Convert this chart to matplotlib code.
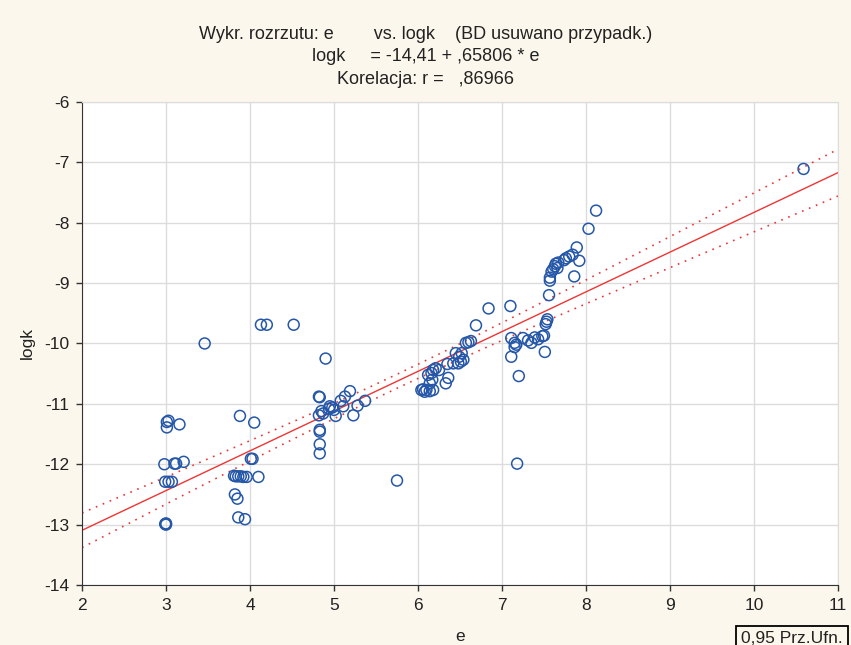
import numpy as np
import matplotlib.pyplot as plt

plt.rcParams['font.family'] = ['Liberation Sans', 'DejaVu Sans']
plt.rcParams['axes.unicode_minus'] = False

# punkty
e_vals = [3.0, 2.99, 3.0, 2.99, 3.03, 3.07, 2.98, 3.10, 3.12, 3.21, 3.01, 3.03, 3.01, 3.16, 3.46,
          3.88, 4.05, 4.01, 4.03, 3.81, 3.83, 3.86, 3.89, 3.92, 3.96, 4.10, 3.82, 3.85, 3.86, 3.94,
          4.13, 4.20, 4.52,
          4.90, 4.82, 4.83, 5.19, 5.13, 5.08, 5.37, 5.28, 4.95, 4.98, 4.94, 5.00, 5.11,
          4.85, 4.87, 4.82, 5.02, 5.23, 4.83, 4.83, 4.83, 4.83, 5.75,
          6.69, 6.84, 6.57, 6.63, 6.60, 6.45, 6.52, 6.49, 6.54, 6.42, 6.48, 6.51, 6.35,
          6.21, 6.25, 6.18, 6.12, 6.16, 6.36, 6.33, 6.17, 6.14, 6.06, 6.10, 6.14, 6.08, 6.04, 6.18,
          7.10, 7.54, 7.53, 7.52, 7.11, 7.15, 7.17, 7.15, 7.25, 7.31, 7.35,
          7.39, 7.43, 7.48, 7.50, 7.51, 7.11, 7.20, 7.18,
          8.12, 8.03, 7.89, 7.92, 7.84, 7.80, 7.76, 7.74, 7.67, 7.64, 7.63, 7.66, 7.61, 7.59,
          7.86, 7.57, 7.57, 7.56, 10.59]
logk_vals = [-12.98, -12.99, -13.0, -12.29, -12.29, -12.29, -12.0, -11.99, -11.99, -11.96, -11.30, -11.28, -11.39, -11.34, -10.0,
             -11.2, -11.31, -11.91, -11.91, -12.19, -12.2, -12.2, -12.2, -12.21, -12.21, -12.21, -12.5, -12.57, -12.88, -12.91,
             -9.69, -9.69, -9.69,
             -10.25, -10.88, -10.89, -10.79, -10.88, -10.95, -10.95, -11.03, -11.04, -11.06, -11.08, -11.1, -11.04,
             -11.12, -11.16, -11.19, -11.2, -11.19, -11.43, -11.46, -11.67, -11.82, -12.27,
             -9.7, -9.42, -9.99, -9.96, -9.98, -10.16, -10.16, -10.22, -10.27, -10.33, -10.33, -10.3, -10.34,
             -10.41, -10.44, -10.44, -10.52, -10.49, -10.57, -10.66, -10.6, -10.66, -10.76, -10.77, -10.79, -10.8, -10.77, -10.77,
             -9.38, -9.6, -9.64, -9.68, -9.91, -9.99, -10.02, -10.06, -9.91, -9.95, -9.99,
             -9.9, -9.93, -9.88, -9.87, -10.14, -10.22, -10.54, -11.99,
             -7.8, -8.1, -8.41, -8.63, -8.53, -8.56, -8.59, -8.62, -8.66, -8.68, -8.72, -8.75, -8.77, -8.81,
             -8.89, -8.91, -8.96, -9.2, -7.11]

intercept = -14.41
slope = 0.65806
x_ticks = [2, 3, 4, 5, 6, 7, 8, 9, 10, 11]
y_ticks = [-14, -13, -12, -11, -10, -9, -8, -7, -6]

x = np.array(e_vals)
y = np.array(logk_vals)
n = len(x)
resid = y - (intercept + slope * x)
s = np.sqrt((resid ** 2).sum() / (n - 2))
xm = x.mean()
sxx = ((x - xm) ** 2).sum()

xx = np.linspace(2, 11, 200)
yy = intercept + slope * xx
half = 1.98 * s * np.sqrt(1.0 / n + (xx - xm) ** 2 / sxx)

fig = plt.figure(figsize=(8.51, 6.45), dpi=100, facecolor='#fbf7ec')
ax = fig.add_axes([0.0964, 0.093, 0.8883, 0.749])
ax.set_facecolor('white')

ax.grid(True, color='#dcdcdc', linewidth=1.0)
ax.set_axisbelow(True)
ax.scatter(x, y, s=62, facecolors='none', edgecolors='#2557a8', linewidths=1.1, zorder=3)
ax.plot(xx, yy, color='#ee3535', linewidth=1.0, zorder=2)
ax.plot(xx, yy + half, color='#ee3535', linewidth=1.2, linestyle=(0, (1.0, 3.5)), zorder=2)
ax.plot(xx, yy - half, color='#ee3535', linewidth=1.2, linestyle=(0, (1.0, 3.5)), zorder=2)

ax.set_xlim(2, 11)
ax.set_ylim(-14, -6)
ax.set_xticks(x_ticks)
ax.set_yticks(y_ticks)
ax.tick_params(direction='out', length=4, width=1, color='#333333', labelsize=12.5,
               labelcolor='#222222', pad=5)
for side in ['left', 'bottom']:
    ax.spines[side].set_color('#333333')
for side in ['top', 'right']:
    ax.spines[side].set_color('#dcdcdc')

ax.set_xlabel('e', fontsize=12.5, color='#222222', labelpad=12)
ax.set_ylabel('logk', fontsize=12.5, color='#222222', labelpad=7)

fig.text(0.5, 0.947, 'Wykr. rozrzutu: e        vs. logk    (BD usuwano przypadk.)', ha='center', va='center', fontsize=13, color='#222222')
fig.text(0.5, 0.912, 'logk     = -14,41 + ,65806 * e', ha='center', va='center', fontsize=13, color='#222222')
fig.text(0.5, 0.876, 'Korelacja: r =   ,86966', ha='center', va='center', fontsize=13, color='#222222')

fig.text(0.871, 0.01, '0,95 Prz.Ufn.', ha='left', va='center', fontsize=12.5, color='#222222',
         bbox=dict(boxstyle='square,pad=0.3', facecolor='#fbf7ec', edgecolor='black', linewidth=1.3))

fig.savefig('out.png', dpi=100, facecolor=fig.get_facecolor())
